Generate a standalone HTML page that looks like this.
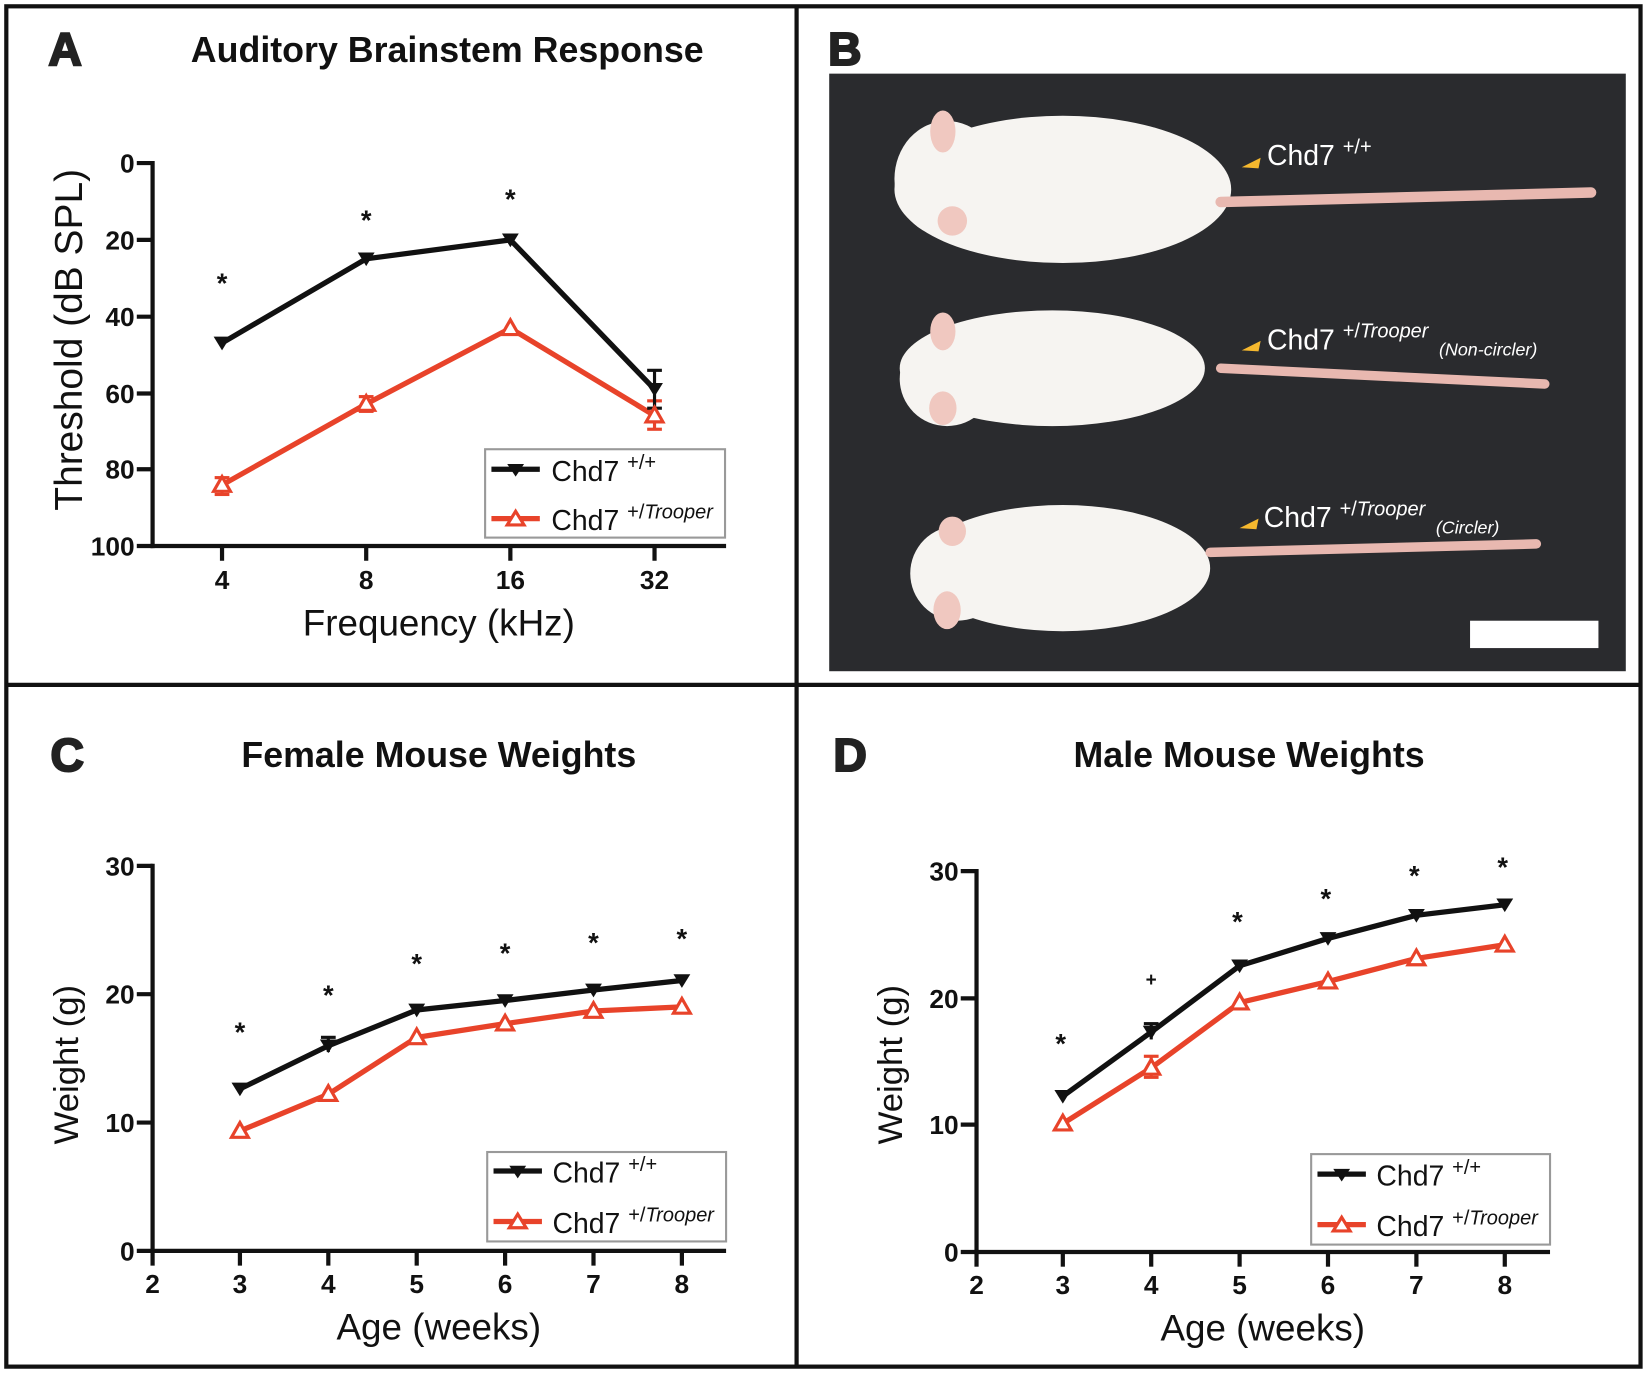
<!DOCTYPE html>
<html><head><meta charset="utf-8"><style>html,body{margin:0;padding:0;background:#fff}svg{display:block}</style></head>
<body>
<svg width="1650" height="1374" viewBox="0 0 1568 1306" preserveAspectRatio="none" xmlns="http://www.w3.org/2000/svg" font-family="Liberation Sans, Arial, sans-serif">
<rect x="0" y="0" width="1568" height="1306" fill="#fff"/>
<g stroke="#111" stroke-width="4" fill="none">
<rect x="6" y="6" width="1553" height="1293"/>
<line x1="757" y1="6" x2="757" y2="1299"/>
<line x1="6" y1="651" x2="1559" y2="651"/>
</g>
<g font-weight="900" font-size="44" fill="#222">
<text x="46" y="62" stroke="#222" stroke-width="2">A</text>
<text x="787" y="62" stroke="#222" stroke-width="2">B</text>
<text x="48" y="733" stroke="#222" stroke-width="2">C</text>
<text x="792" y="733" stroke="#222" stroke-width="2">D</text>
</g>
<g font-weight="bold" font-size="34" fill="#111" text-anchor="middle">
<text x="425" y="59">Auditory Brainstem Response</text>
<text x="417" y="729">Female Mouse Weights</text>
<text x="1187" y="729">Male Mouse Weights</text>
</g>

<!-- PANEL A -->
<g stroke="#111" stroke-width="4" fill="none">
<line x1="145" y1="153" x2="145" y2="521"/>
<line x1="143" y1="519" x2="690" y2="519"/>
<line x1="130" y1="155" x2="145" y2="155"/><line x1="130" y1="228" x2="145" y2="228"/><line x1="130" y1="301" x2="145" y2="301"/><line x1="130" y1="374" x2="145" y2="374"/><line x1="130" y1="446" x2="145" y2="446"/><line x1="130" y1="519" x2="145" y2="519"/>
<line x1="211" y1="519" x2="211" y2="533"/><line x1="348" y1="519" x2="348" y2="533"/><line x1="485" y1="519" x2="485" y2="533"/><line x1="622" y1="519" x2="622" y2="533"/>
</g>
<g font-weight="bold" font-size="25" fill="#111" text-anchor="end">
<text x="128" y="164">0</text><text x="128" y="237">20</text><text x="128" y="310">40</text><text x="128" y="383">60</text><text x="128" y="455">80</text><text x="128" y="528">100</text>
</g>
<g font-weight="bold" font-size="25" fill="#111" text-anchor="middle">
<text x="211" y="560">4</text><text x="348" y="560">8</text><text x="485" y="560">16</text><text x="622" y="560">32</text>
</g>
<text x="417" y="604" font-size="35" text-anchor="middle" fill="#111">Frequency (kHz)</text>
<text transform="translate(78,323) rotate(-90)" font-size="37" text-anchor="middle" fill="#111">Threshold (dB SPL)</text>
<g font-size="26" font-weight="bold" fill="#111" text-anchor="middle">
<text x="211" y="278">*</text><text x="348" y="218">*</text><text x="485" y="198">*</text>
</g>
<polyline points="211,461 348,384 485,312 622,395" stroke="#e8432a" stroke-width="5" fill="none"/>
<polyline points="211,326 348,246 485,228 622,370" stroke="#111" stroke-width="5" fill="none"/>
<g stroke="#e8432a" stroke-width="3"><line x1="211" y1="454" x2="211" y2="470"/><line x1="204" y1="454" x2="218" y2="454"/><line x1="204" y1="470" x2="218" y2="470"/>
<line x1="348" y1="377" x2="348" y2="391"/><line x1="341" y1="377" x2="355" y2="377"/><line x1="341" y1="391" x2="355" y2="391"/>
<line x1="622" y1="381" x2="622" y2="408"/><line x1="615" y1="381" x2="629" y2="381"/><line x1="615" y1="408" x2="629" y2="408"/></g>
<g stroke="#111" stroke-width="3"><line x1="622" y1="352" x2="622" y2="388"/><line x1="615" y1="352" x2="629" y2="352"/><line x1="615" y1="388" x2="629" y2="388"/></g>
<g fill="#fff" stroke="#e8432a" stroke-width="3">
<polygon points="203,467 219,467 211,453"/><polygon points="340,390 356,390 348,376"/><polygon points="477,318 493,318 485,304"/><polygon points="614,401 630,401 622,387"/></g>
<g fill="#111"><polygon points="203,320 219,320 211,333"/><polygon points="340,240 356,240 348,253"/><polygon points="477,222 493,222 485,235"/><polygon points="614,364 630,364 622,377"/></g>
<rect x="461" y="427" width="228" height="84" fill="#fff" stroke="#999" stroke-width="2"/>
<line x1="467" y1="446" x2="513" y2="446" stroke="#111" stroke-width="5"/><polygon points="482,441 498,441 490,453" fill="#111"/>
<line x1="467" y1="493" x2="513" y2="493" stroke="#e8432a" stroke-width="5"/><polygon points="482,499 498,499 490,486" fill="#fff" stroke="#e8432a" stroke-width="3"/>
<text x="524" y="457" font-size="27" fill="#111">Chd7 <tspan font-size="19" dy="-11">+/+</tspan></text>
<text x="524" y="504" font-size="27" fill="#111">Chd7 <tspan font-size="19" dy="-11">+/<tspan font-style="italic">Trooper</tspan></tspan></text>

<!-- PANEL B -->
<rect x="788" y="70" width="757" height="568" fill="#2a2b2e"/>
<g fill="#f6f4f1">
<ellipse cx="1010" cy="180" rx="160" ry="70"/>
<ellipse cx="900" cy="170" rx="50" ry="55"/>
<ellipse cx="1000" cy="350" rx="145" ry="55"/>
<ellipse cx="900" cy="360" rx="45" ry="45"/>
<ellipse cx="1010" cy="540" rx="140" ry="60"/>
<ellipse cx="910" cy="545" rx="45" ry="45"/>
</g>
<g fill="#f0c8c0"><ellipse cx="896" cy="125" rx="12" ry="20"/><ellipse cx="905" cy="210" rx="14" ry="14"/><ellipse cx="896" cy="315" rx="12" ry="18"/><ellipse cx="896" cy="388" rx="13" ry="16"/><ellipse cx="905" cy="505" rx="13" ry="14"/><ellipse cx="900" cy="580" rx="13" ry="18"/></g>
<g stroke="#e8b8b0" stroke-linecap="round">
<path d="M1160,192 L1512,183" stroke-width="10"/>
<path d="M1160,350 L1468,365" stroke-width="9"/>
<path d="M1150,525 L1460,517" stroke-width="9"/>
</g>
<g fill="#f5b82e"><polygon points="1180,159 1198,150 1196,160"/><polygon points="1180,333 1198,324 1196,334"/><polygon points="1178,502 1196,493 1194,503"/></g>
<g fill="#fff" font-size="27">
<text x="1204" y="157">Chd7 <tspan font-size="19" dy="-11">+/+</tspan></text>
<text x="1204" y="332">Chd7 <tspan font-size="19" dy="-11">+/<tspan font-style="italic">Trooper</tspan></tspan><tspan font-size="17" font-style="italic" dx="10" dy="17">(Non-circler)</tspan></text>
<text x="1201" y="501">Chd7 <tspan font-size="19" dy="-11">+/<tspan font-style="italic">Trooper</tspan></tspan><tspan font-size="17" font-style="italic" dx="10" dy="17">(Circler)</tspan></text>
</g>
<rect x="1397" y="590" width="122" height="26" fill="#fff"/>

<!-- PANEL C -->
<g stroke="#111" stroke-width="4" fill="none">
<line x1="145" y1="821" x2="145" y2="1191"/>
<line x1="143" y1="1189" x2="690" y2="1189"/>
<line x1="130" y1="823" x2="145" y2="823"/><line x1="130" y1="945" x2="145" y2="945"/><line x1="130" y1="1067" x2="145" y2="1067"/><line x1="130" y1="1189" x2="145" y2="1189"/>
<line x1="145" y1="1189" x2="145" y2="1203"/><line x1="228" y1="1189" x2="228" y2="1203"/><line x1="312" y1="1189" x2="312" y2="1203"/><line x1="396" y1="1189" x2="396" y2="1203"/><line x1="480" y1="1189" x2="480" y2="1203"/><line x1="564" y1="1189" x2="564" y2="1203"/><line x1="648" y1="1189" x2="648" y2="1203"/>
</g>
<g font-weight="bold" font-size="25" fill="#111" text-anchor="end">
<text x="128" y="832">30</text><text x="128" y="954">20</text><text x="128" y="1076">10</text><text x="128" y="1198">0</text>
</g>
<g font-weight="bold" font-size="25" fill="#111" text-anchor="middle">
<text x="145" y="1229">2</text><text x="228" y="1229">3</text><text x="312" y="1229">4</text><text x="396" y="1229">5</text><text x="480" y="1229">6</text><text x="564" y="1229">7</text><text x="648" y="1229">8</text>
</g>
<text x="417" y="1273" font-size="35" text-anchor="middle" fill="#111">Age (weeks)</text>
<text transform="translate(74,1012) rotate(-90)" font-size="33" text-anchor="middle" fill="#111">Weight (g)</text>
<g font-size="26" font-weight="bold" fill="#111" text-anchor="middle">
<text x="228" y="990">*</text><text x="312" y="955">*</text><text x="396" y="925">*</text><text x="480" y="915">*</text><text x="564" y="905">*</text><text x="648" y="901">*</text>
</g>
<polyline points="228,1075 312,1040 396,986 480,973 564,961 648,957" stroke="#e8432a" stroke-width="5" fill="none"/>
<polyline points="228,1035 312,994 396,960 480,951 564,941 648,932" stroke="#111" stroke-width="5" fill="none"/>
<g stroke="#111" stroke-width="3"><line x1="312" y1="986" x2="312" y2="1000"/><line x1="305" y1="986" x2="319" y2="986"/></g>
<g fill="#fff" stroke="#e8432a" stroke-width="3">
<polygon points="220,1081 236,1081 228,1067"/><polygon points="304,1046 320,1046 312,1032"/><polygon points="388,992 404,992 396,978"/><polygon points="472,979 488,979 480,965"/><polygon points="556,967 572,967 564,953"/><polygon points="640,963 656,963 648,949"/></g>
<g fill="#111"><polygon points="220,1029 236,1029 228,1042"/><polygon points="304,988 320,988 312,1001"/><polygon points="388,954 404,954 396,967"/><polygon points="472,945 488,945 480,958"/><polygon points="556,935 572,935 564,948"/><polygon points="640,926 656,926 648,939"/></g>
<rect x="463" y="1095" width="227" height="85" fill="#fff" stroke="#999" stroke-width="2"/>
<line x1="469" y1="1113" x2="515" y2="1113" stroke="#111" stroke-width="5"/><polygon points="484,1108 500,1108 492,1120" fill="#111"/>
<line x1="469" y1="1161" x2="515" y2="1161" stroke="#e8432a" stroke-width="5"/><polygon points="484,1167 500,1167 492,1154" fill="#fff" stroke="#e8432a" stroke-width="3"/>
<text x="525" y="1124" font-size="27" fill="#111">Chd7 <tspan font-size="19" dy="-11">+/+</tspan></text>
<text x="525" y="1172" font-size="27" fill="#111">Chd7 <tspan font-size="19" dy="-11">+/<tspan font-style="italic">Trooper</tspan></tspan></text>

<!-- PANEL D -->
<g stroke="#111" stroke-width="4" fill="none">
<line x1="928" y1="826" x2="928" y2="1192"/>
<line x1="926" y1="1190" x2="1473" y2="1190"/>
<line x1="913" y1="828" x2="928" y2="828"/><line x1="913" y1="949" x2="928" y2="949"/><line x1="913" y1="1069" x2="928" y2="1069"/><line x1="913" y1="1190" x2="928" y2="1190"/>
<line x1="928" y1="1190" x2="928" y2="1204"/><line x1="1010" y1="1190" x2="1010" y2="1204"/><line x1="1094" y1="1190" x2="1094" y2="1204"/><line x1="1178" y1="1190" x2="1178" y2="1204"/><line x1="1262" y1="1190" x2="1262" y2="1204"/><line x1="1346" y1="1190" x2="1346" y2="1204"/><line x1="1430" y1="1190" x2="1430" y2="1204"/>
</g>
<g font-weight="bold" font-size="25" fill="#111" text-anchor="end">
<text x="911" y="837">30</text><text x="911" y="958">20</text><text x="911" y="1078">10</text><text x="911" y="1199">0</text>
</g>
<g font-weight="bold" font-size="25" fill="#111" text-anchor="middle">
<text x="928" y="1230">2</text><text x="1010" y="1230">3</text><text x="1094" y="1230">4</text><text x="1178" y="1230">5</text><text x="1262" y="1230">6</text><text x="1346" y="1230">7</text><text x="1430" y="1230">8</text>
</g>
<text x="1200" y="1274" font-size="35" text-anchor="middle" fill="#111">Age (weeks)</text>
<text transform="translate(857,1012) rotate(-90)" font-size="33" text-anchor="middle" fill="#111">Weight (g)</text>
<g font-size="26" font-weight="bold" fill="#111" text-anchor="middle">
<text x="1008" y="1001">*</text><text x="1094" y="937" font-size="18">+</text><text x="1176" y="885">*</text><text x="1260" y="863">*</text><text x="1344" y="841">*</text><text x="1428" y="833">*</text>
</g>
<polyline points="1010,1068 1094,1015 1178,953 1262,933 1346,911 1430,898" stroke="#e8432a" stroke-width="5" fill="none"/>
<polyline points="1010,1042 1094,981 1178,918 1262,892 1346,870 1430,860" stroke="#111" stroke-width="5" fill="none"/>
<g stroke="#111" stroke-width="3"><line x1="1094" y1="973" x2="1094" y2="988"/><line x1="1087" y1="973" x2="1101" y2="973"/></g>
<g stroke="#e8432a" stroke-width="3"><line x1="1094" y1="1004" x2="1094" y2="1024"/><line x1="1087" y1="1004" x2="1101" y2="1004"/><line x1="1087" y1="1024" x2="1101" y2="1024"/></g>
<g fill="#fff" stroke="#e8432a" stroke-width="3">
<polygon points="1002,1074 1018,1074 1010,1060"/><polygon points="1086,1021 1102,1021 1094,1007"/><polygon points="1170,959 1186,959 1178,945"/><polygon points="1254,939 1270,939 1262,925"/><polygon points="1338,917 1354,917 1346,903"/><polygon points="1422,904 1438,904 1430,890"/></g>
<g fill="#111"><polygon points="1002,1036 1018,1036 1010,1049"/><polygon points="1086,975 1102,975 1094,988"/><polygon points="1170,912 1186,912 1178,925"/><polygon points="1254,886 1270,886 1262,899"/><polygon points="1338,864 1354,864 1346,877"/><polygon points="1422,854 1438,854 1430,867"/></g>
<rect x="1246" y="1097" width="227" height="86" fill="#fff" stroke="#999" stroke-width="2"/>
<line x1="1252" y1="1116" x2="1298" y2="1116" stroke="#111" stroke-width="5"/><polygon points="1267,1111 1283,1111 1275,1123" fill="#111"/>
<line x1="1252" y1="1164" x2="1298" y2="1164" stroke="#e8432a" stroke-width="5"/><polygon points="1267,1170 1283,1170 1275,1157" fill="#fff" stroke="#e8432a" stroke-width="3"/>
<text x="1308" y="1127" font-size="27" fill="#111">Chd7 <tspan font-size="19" dy="-11">+/+</tspan></text>
<text x="1308" y="1175" font-size="27" fill="#111">Chd7 <tspan font-size="19" dy="-11">+/<tspan font-style="italic">Trooper</tspan></tspan></text>
</svg>
</body></html>
